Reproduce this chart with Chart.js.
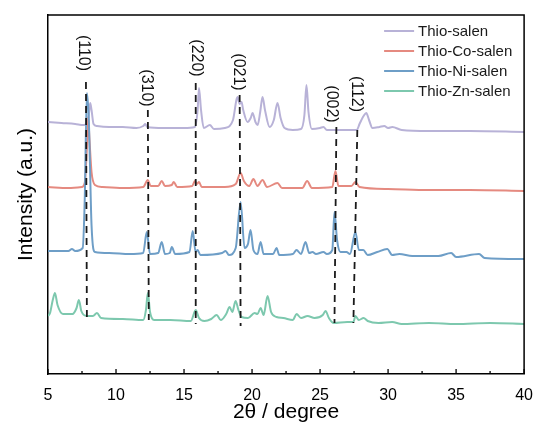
<!DOCTYPE html>
<html><head><meta charset="utf-8">
<script src="https://cdn.jsdelivr.net/npm/chart.js@4.4.0/dist/chart.umd.min.js"></script>
<style>html,body{margin:0;padding:0;background:#fff}#wrap{width:537px;height:428px}</style>
</head><body><div id="wrap"><canvas id="c" width="537" height="428"></canvas></div>
<script>
// ---- data (2θ in degree, intensity in a.u. with vertical offsets) ----
const seriesNames = ['Thio-salen', 'Thio-Co-salen', 'Thio-Ni-salen', 'Thio-Zn-salen'];
const seriesColors = ['#b8b2d7', '#e58a80', '#6e9ec7', '#7dc8ae'];

const thioSalen = [[5.0,252],[6.0,251],[7.0,250],[7.6,249],[7.9,250],[8.0,259],[8.1,271],[8.2,264],[8.35,250],[8.6,248],[9.5,247],[10.5,247],[11.5,246],[12.0,248],[12.15,250],[12.3,247],[13.5,246],[15.0,246],[15.8,247],[16.0,264],[16.1,286],[16.25,264],[16.45,246],[16.9,249],[17.2,245],[18.0,246],[18.6,254],[18.85,274],[18.94,277],[19.09,270],[19.23,272],[19.35,264],[19.67,252],[19.9,256],[20.04,261],[20.25,252],[20.41,249],[20.6,262],[20.77,277],[20.95,264],[21.29,247],[21.6,254],[21.87,271],[22.1,256],[22.39,246],[23.0,244],[23.6,245],[23.85,259],[24.0,289],[24.15,262],[24.4,245],[25.0,246],[25.25,247],[25.5,244],[27.0,244],[27.7,244],[27.9,250],[28.04,254],[28.2,258],[28.4,261],[28.6,254],[28.85,246],[29.36,247],[29.72,248],[30.0,246],[30.31,247],[31.0,244],[33.0,243],[36.0,243],[40.0,242]];

const thioCoSalen = [[5.0,187],[6.5,186],[7.5,187],[7.7,191],[7.85,224],[7.95,257],[8.05,234],[8.2,202],[8.45,189],[9.0,187],[10.5,186],[12.0,187],[12.34,194],[12.55,188],[13.1,188],[13.36,193],[13.6,188],[14.1,189],[14.24,192],[14.5,187],[15.6,188],[15.8,193],[15.95,190],[16.1,192],[16.3,187],[18.0,187],[18.8,190],[19.16,201],[19.4,193],[19.8,188],[20.1,195],[20.4,188],[20.77,194],[21.1,187],[21.87,191],[22.2,186],[23.7,186],[24.05,193],[24.4,186],[25.9,187],[26.13,203],[26.35,188],[27.3,188],[27.6,192],[27.9,187],[30.0,185],[33.0,184],[36.0,184],[40.0,183]];

const thioNiSalen = [[5.0,123],[6.5,123],[6.76,125],[7.0,123],[7.55,126],[7.7,174],[7.86,281],[8.0,254],[8.2,149],[8.45,122],[9.5,121],[11.0,120],[12.0,121],[12.26,142],[12.5,120],[13.1,121],[13.36,132],[13.6,120],[13.95,121],[14.1,127],[14.35,120],[15.4,122],[15.64,143],[15.85,122],[16.0,124],[16.2,119],[17.8,121],[18.06,123],[18.3,119],[18.8,126],[19.16,172],[19.45,126],[19.7,130],[19.89,144],[20.1,124],[20.4,120],[20.63,132],[20.85,120],[21.55,120],[21.8,126],[22.0,119],[23.0,120],[23.27,124],[23.6,120],[23.93,132],[24.2,121],[24.44,122],[24.7,120],[25.25,122],[25.5,120],[25.9,124],[26.06,162],[26.25,134],[26.5,122],[26.94,122],[27.2,120],[27.6,142],[27.85,124],[28.18,124],[28.5,119],[29.2,122],[29.94,125],[30.3,119],[30.83,120],[31.78,118],[33.0,118],[33.7,118],[34.64,121],[35.0,117],[36.69,120],[37.1,116],[40.0,115]];

const thioZnSalen = [[5.0,58],[5.15,61],[5.35,74],[5.51,81],[5.7,69],[6.1,60],[6.8,60],[7.1,66],[7.27,74],[7.45,63],[7.86,58],[8.3,58],[8.6,61],[8.9,56],[10.5,55],[12.0,54],[12.2,64],[12.34,81],[12.5,62],[12.8,54],[14.0,54],[15.5,53],[15.86,64],[16.1,56],[16.5,53],[17.0,55],[17.4,59],[17.7,54],[18.1,60],[18.35,67],[18.55,62],[18.79,73],[19.0,64],[19.23,57],[19.7,56],[20.19,61],[20.4,60],[20.63,66],[20.85,59],[21.14,78],[21.4,62],[21.8,57],[22.3,56],[23.0,54],[23.27,60],[23.6,56],[24.08,58],[24.6,56],[25.2,59],[25.4,63],[25.65,56],[26.0,51],[27.0,52],[27.45,52],[27.6,58],[27.85,54],[28.2,56],[28.5,53],[29.3,51],[30.3,52],[31.0,50],[33.0,51],[35.0,50],[37.5,51],[40.0,50]];

// reflection marks (hkl) : dashed guide lines and their labels
const hklLabels   = ['(110)', '(310)', '(220)', '(021)', '(002)', '(112)'];
const dashTopX    = [7.79, 12.34, 15.86, 19.09, 26.20, 27.74];
const dashTopY    = [292, 264, 291, 279, 247, 244];
const dashBottomX = [7.86, 12.41, 15.86, 19.16, 26.06, 27.45];
const dashBottomY = [52, 54, 50, 48, 51, 51];
const hklLabelX   = [7.58, 12.26, 15.93, 19.01, 25.84, 27.67];
const hklLabelY   = [321, 286, 316, 302, 270, 280];

const xTicks = [5, 10, 15, 20, 25, 30, 35, 40];

// ---- build datasets ----
const FONT = "'Liberation Sans', Arial, Helvetica, sans-serif";
const seriesData = [thioSalen, thioCoSalen, thioNiSalen, thioZnSalen];
const drawOrder = [4, 3, 1, 2];
const datasets = [];
seriesData.forEach((s, i) => {
  datasets.push({
    label: seriesNames[i],
    data: s.map(p => ({x: p[0], y: p[1]})),
    borderColor: seriesColors[i],
    backgroundColor: seriesColors[i],
    borderWidth: 2,
    pointRadius: 0,
    cubicInterpolationMode: 'monotone',
    fill: false,
    order: drawOrder[i]
  });
});
hklLabels.forEach((h, i) => {
  datasets.push({
    label: 'dash ' + h,
    data: [{x: dashTopX[i], y: dashTopY[i]}, {x: dashBottomX[i], y: dashBottomY[i]}],
    borderColor: '#1a1a1a',
    borderWidth: 1.8,
    borderDash: [7, 5],
    pointRadius: 0,
    fill: false,
    order: 0
  });
});

// ---- plugins ----
const framePlugin = {
  id: 'frame',
  afterDraw(chart) {
    const {ctx, chartArea: a, scales} = chart;
    ctx.save();
    ctx.strokeStyle = '#000';
    ctx.lineWidth = 1.5;
    ctx.beginPath();
    ctx.moveTo(a.left, a.top); ctx.lineTo(a.right, a.top); ctx.lineTo(a.right, a.bottom);
    ctx.stroke();
    // inward ticks on bottom axis
    const xs = scales.x;
    ctx.lineWidth = 1.3;
    for (let v = 5; v <= 40; v += 2.5) {
      const px = xs.getPixelForValue(v);
      const len = (v % 5 === 0) ? 5 : 3;
      ctx.beginPath();
      ctx.moveTo(px, a.bottom);
      ctx.lineTo(px, a.bottom - len);
      ctx.stroke();
    }
    ctx.restore();
  }
};

const hklPlugin = {
  id: 'hkl',
  afterDatasetsDraw(chart) {
    const {ctx, scales} = chart;
    ctx.save();
    ctx.fillStyle = '#111';
    ctx.font = '16px ' + FONT;
    ctx.textAlign = 'center';
    ctx.textBaseline = 'middle';
    hklLabels.forEach((t, i) => {
      const px = scales.x.getPixelForValue(hklLabelX[i]);
      const py = scales.y.getPixelForValue(hklLabelY[i]);
      ctx.save();
      ctx.translate(px, py);
      ctx.rotate(Math.PI / 2);
      ctx.fillText(t, 0, 0);
      ctx.restore();
    });
    ctx.restore();
  }
};

const legendPlugin = {
  id: 'insideLegend',
  afterDraw(chart) {
    const {ctx, chartArea: a} = chart;
    ctx.save();
    ctx.font = '15px ' + FONT;
    ctx.textBaseline = 'middle';
    ctx.textAlign = 'left';
    const x0 = a.right - 140;
    seriesNames.forEach((n, i) => {
      const y = a.top + 16 + i * 20;
      ctx.strokeStyle = seriesColors[i];
      ctx.lineWidth = 2;
      ctx.beginPath();
      ctx.moveTo(x0, y);
      ctx.lineTo(x0 + 30, y);
      ctx.stroke();
      ctx.fillStyle = '#1a1a1a';
      ctx.fillText(n, x0 + 34, y + 1);
    });
    ctx.restore();
  }
};

new Chart(document.getElementById('c'), {
  type: 'line',
  data: {datasets},
  options: {
    responsive: false,
    animation: false,
    events: [],
    layout: {padding: {top: 15, right: 5, left: 0, bottom: 0}},
    plugins: {legend: {display: false}, tooltip: {enabled: false}},
    scales: {
      x: {
        type: 'linear',
        min: 5, max: 40,
        afterBuildTicks(scale) { scale.ticks = xTicks.map(v => ({value: v})); },
        afterFit(scale) { scale.height = 54; },
        ticks: {font: {size: 16, family: FONT}, color: '#000', padding: 4, maxRotation: 0},
        grid: {display: false},
        border: {display: true, color: '#000', width: 1.5},
        title: {display: true, text: '2θ / degree', font: {size: 21, family: FONT}, color: '#000', padding: {top: 0, bottom: 3}}
      },
      y: {
        type: 'linear',
        min: 0, max: 359,
        afterFit(scale) { scale.width = 48; },
        ticks: {display: false},
        grid: {display: false},
        border: {display: true, color: '#000', width: 1.5},
        title: {display: true, text: 'Intensity (a.u.)', font: {size: 21, family: FONT}, color: '#000', padding: {top: 14, bottom: 0}}
      }
    }
  },
  plugins: [framePlugin, hklPlugin, legendPlugin]
});
</script>
</body></html>
